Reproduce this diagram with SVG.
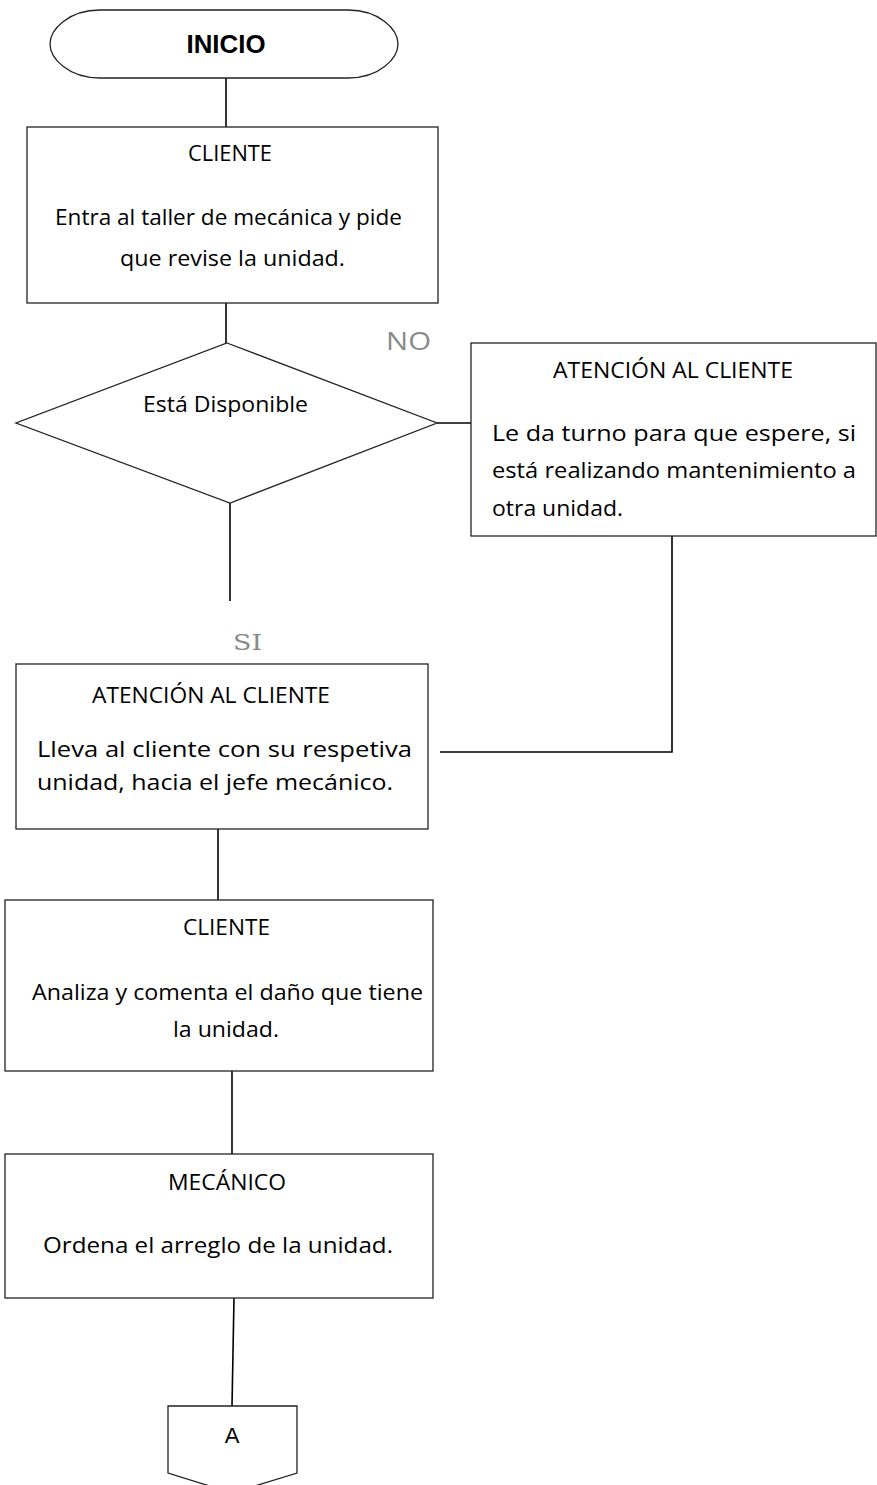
<svg xmlns="http://www.w3.org/2000/svg" width="877" height="1485" viewBox="0 0 877 1485">
<style>
.shape{fill:#fff;stroke:#222;stroke-width:1.3}
.conn{fill:none;stroke:#000;stroke-width:1.6}
.t{font-family:"Open Sans","Liberation Sans",Arial,sans-serif;font-size:21px;fill:#000}
.lbl{font-family:"Open Sans","Liberation Sans",Arial,sans-serif;font-size:25px;fill:#8a8a8a}
.lbls{font-family:"DejaVu Serif","Liberation Serif",serif;font-size:22px;fill:#8a8a8a}
</style>
<rect width="877" height="1485" fill="#fff"/>
<g id="connectors">
<line class="conn" x1="226" y1="78" x2="226" y2="127"/>
<line class="conn" x1="226" y1="303" x2="226" y2="343"/>
<line class="conn" x1="230" y1="503" x2="230" y2="601"/>
<line class="conn" x1="437" y1="423" x2="471" y2="423"/>
<polyline class="conn" points="672,536 672,752 440,752"/>
<line class="conn" x1="218" y1="829" x2="218" y2="900"/>
<line class="conn" x1="232" y1="1071" x2="232" y2="1154"/>
<line class="conn" x1="234" y1="1298" x2="232" y2="1406"/>
</g>
<g id="inicio">
<path class="shape" d="M100,10 H348 C380,10 398,30 398,44 C398,58 380,78 348,78 H100 C68,78 50,58 50,44 C50,30 68,10 100,10 Z"/>
<text x="226" y="53" text-anchor="middle" textLength="79" lengthAdjust="spacingAndGlyphs" style="font-family:'Liberation Sans',Arial,sans-serif;font-size:25px;font-weight:bold">INICIO</text>
</g>
<g id="cliente1">
<rect class="shape" x="27" y="127" width="411" height="176"/>
<text class="t" x="188" y="161" textLength="84" lengthAdjust="spacingAndGlyphs">CLIENTE</text>
<text class="t" x="55" y="225" textLength="347" lengthAdjust="spacingAndGlyphs">Entra al taller de mecánica y pide</text>
<text class="t" x="120" y="266" textLength="225" lengthAdjust="spacingAndGlyphs">que revise la unidad.</text>
</g>
<g id="decision">
<polygon class="shape" points="227,343 437,423 230,503 16,423"/>
<text class="t" x="143" y="412" textLength="165" lengthAdjust="spacingAndGlyphs">Está Disponible</text>
</g>
<g id="label-no">
<text class="lbl" x="386" y="350" textLength="45" lengthAdjust="spacingAndGlyphs">NO</text>
</g>
<g id="atencion1">
<rect class="shape" x="471" y="343" width="405" height="193"/>
<text class="t" x="553" y="378" textLength="240" lengthAdjust="spacingAndGlyphs">ATENCIÓN AL CLIENTE</text>
<text class="t" x="492" y="441" textLength="364" lengthAdjust="spacingAndGlyphs">Le da turno para que espere, si</text>
<text class="t" x="492" y="478" textLength="364" lengthAdjust="spacingAndGlyphs">está realizando mantenimiento a</text>
<text class="t" x="492" y="516" textLength="131" lengthAdjust="spacingAndGlyphs">otra unidad.</text>
</g>
<g id="label-si">
<text class="lbls" x="233" y="650" textLength="29" lengthAdjust="spacingAndGlyphs">SI</text>
</g>
<g id="atencion2">
<rect class="shape" x="16" y="664" width="412" height="165"/>
<text class="t" x="92" y="703" textLength="238" lengthAdjust="spacingAndGlyphs">ATENCIÓN AL CLIENTE</text>
<text class="t" x="37" y="757" textLength="375" lengthAdjust="spacingAndGlyphs">Lleva al cliente con su respetiva</text>
<text class="t" x="37" y="790" textLength="356" lengthAdjust="spacingAndGlyphs">unidad, hacia el jefe mecánico.</text>
</g>
<g id="cliente2">
<rect class="shape" x="5" y="900" width="428" height="171"/>
<text class="t" x="183" y="935" textLength="87" lengthAdjust="spacingAndGlyphs">CLIENTE</text>
<text class="t" x="32" y="1000" textLength="391" lengthAdjust="spacingAndGlyphs">Analiza y comenta el daño que tiene</text>
<text class="t" x="173" y="1037" textLength="106" lengthAdjust="spacingAndGlyphs">la unidad.</text>
</g>
<g id="mecanico">
<rect class="shape" x="5" y="1154" width="428" height="144"/>
<text class="t" x="168" y="1190" textLength="118" lengthAdjust="spacingAndGlyphs">MECÁNICO</text>
<text class="t" x="43" y="1253" textLength="350" lengthAdjust="spacingAndGlyphs">Ordena el arreglo de la unidad.</text>
</g>
<g id="conector-a">
<polygon class="shape" points="168,1406 297,1406 297,1473 232,1493 168,1473"/>
<text x="232" y="1443" text-anchor="middle" style="font-family:'Liberation Sans',Arial,sans-serif;font-size:22px">A</text>
</g>
</svg>
